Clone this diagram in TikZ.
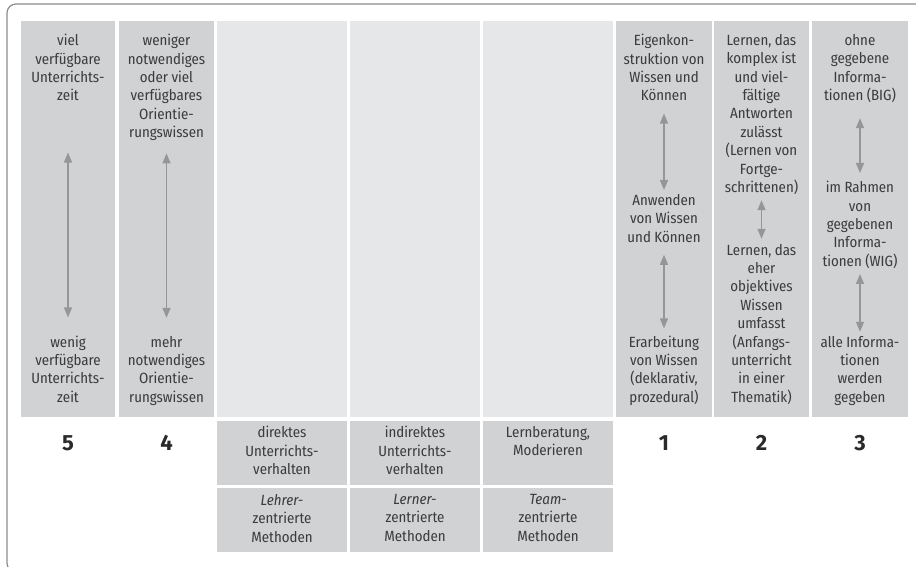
\documentclass[tikz,border=0pt]{standalone}
\usepackage{fontspec}
\setmainfont{Fira Sans Condensed}
\newfontfamily\numfont{Fira Sans}
\usetikzlibrary{arrows.meta}
\definecolor{colgray}{RGB}{209,210,212}
\definecolor{collight}{RGB}{230,231,232}
\definecolor{txtgray}{RGB}{60,60,60}
\definecolor{arrgray}{RGB}{150,150,150}
\definecolor{framegray}{RGB}{140,140,140}

\begin{document}
\begin{tikzpicture}[x=1pt,y=-1pt,
  txt/.style={inner sep=0,align=center,text=txtgray,
    font=\fontsize{14.8}{18.4}\selectfont,
    execute at begin node=\strut,execute at end node=\strut},
  num/.style={inner sep=0,text=txtgray!70!black,
    font=\numfont\bfseries\fontsize{22}{22}\selectfont},
  arr/.style={arrgray,line width=1.3pt,
    {Triangle[width=8pt,length=10pt]}-{Triangle[width=8pt,length=10pt]}}]
  \useasboundingbox (0,0) rectangle (916,567);
  \clip (0,0) rectangle (916,567);
  \draw[framegray,line width=1.2pt,rounded corners=9pt] (920,4) -- (7,4) -- (7,572) -- (40,572);

  \foreach \xa/\xb in {21/115,119/214,616/712,714/809,812/908}
    \fill[colgray] (\xa,21) rectangle (\xb,417);
  \foreach \xa/\xb in {217/347,350/480,483/613}{
    \fill[collight] (\xa,21) rectangle (\xb,417);
    \fill[colgray] (\xa,421) rectangle (\xb,485);
    \fill[colgray] (\xa,488) rectangle (\xb,552);
  }

  \node[txt,anchor=north] (z5a) at (68,34) {viel\\verfügbare\\Unterrichts-\\zeit};
  \node[txt,anchor=south] (z5b) at (68,408) {wenig\\verfügbare\\Unterrichts-\\zeit};
  \node[txt,anchor=north] (z4a) at (166.5,34) {weniger\\notwendiges\\oder viel\\verfügbares\\Orientie-\\rungswissen};
  \node[txt,anchor=south] (z4b) at (166.5,408) {mehr\\notwendiges\\Orientie-\\rungswissen};
  \node[txt,anchor=north] (z1a) at (664,34) {Eigenkon-\\struktion von\\Wissen und\\Können};
  \node[txt,anchor=north] (z1b) at (664,194) {Anwenden\\von Wissen\\und Können};
  \node[txt,anchor=south] (z1c) at (664,408) {Erarbeitung\\von Wissen\\(deklarativ,\\prozedural)};
  \node[txt,anchor=north] (z2a) at (761.5,34) {Lernen, das\\komplex ist\\und viel-\\fältige\\Antworten\\zulässt\\(Lernen von\\Fortge-\\schrittenen)};
  \node[txt,anchor=south] (z2b) at (761.5,408) {Lernen, das\\eher\\objektives\\Wissen\\umfasst\\(Anfangs-\\unterricht\\in einer\\Thematik)};
  \node[txt,anchor=north] (z3a) at (860,34) {ohne\\gegebene\\Informa-\\tionen (BIG)};
  \node[txt,anchor=north] (z3b) at (860,181) {im Rahmen\\von\\gegebenen\\Informa-\\tionen (WIG)};
  \node[txt,anchor=south] (z3c) at (860,408) {alle Informa-\\tionen\\werden\\gegeben};

  \draw[arr,shorten <=46pt,shorten >=18pt] (z5a) -- (z5b);
  \draw[arr,shorten <=10pt,shorten >=18pt] (z4a) -- (z4b);
  \draw[arr,shorten <=7pt,shorten >=4pt] (z1a) -- (z1b);
  \draw[arr,shorten <=7pt,shorten >=7pt] (z1b) -- (z1c);
  \draw[arr,shorten <=2pt,shorten >=5pt] (z2a) -- (z2b);
  \draw[arr,shorten <=12pt,shorten >=8pt] (z3a) -- (z3b);
  \draw[arr,shorten <=2pt,shorten >=4pt] (z3b) -- (z3c);

  \node[num] (n5) at (68,443) {5};
  \node[num] (n4) at (166.5,443) {4};
  \node[num] (n1) at (664,443) {1};
  \node[num] (n2) at (761.5,443) {2};
  \node[num] (n3) at (860,443) {3};

  \node[txt,anchor=north] (v1) at (282,426) {direktes\\Unterrichts-\\verhalten};
  \node[txt,anchor=north] (v2) at (415,426) {indirektes\\Unterrichts-\\verhalten};
  \node[txt,anchor=north] (v3) at (548,426) {Lernberatung,\\Moderieren};
  \node[txt,anchor=north] (m1) at (282,494) {\textit{Lehrer-}\\zentrierte\\Methoden};
  \node[txt,anchor=north] (m2) at (415,494) {\textit{Lerner-}\\zentrierte\\Methoden};
  \node[txt,anchor=north] (m3) at (548,494) {\textit{Team-}\\zentrierte\\Methoden};
\end{tikzpicture}
\end{document}
